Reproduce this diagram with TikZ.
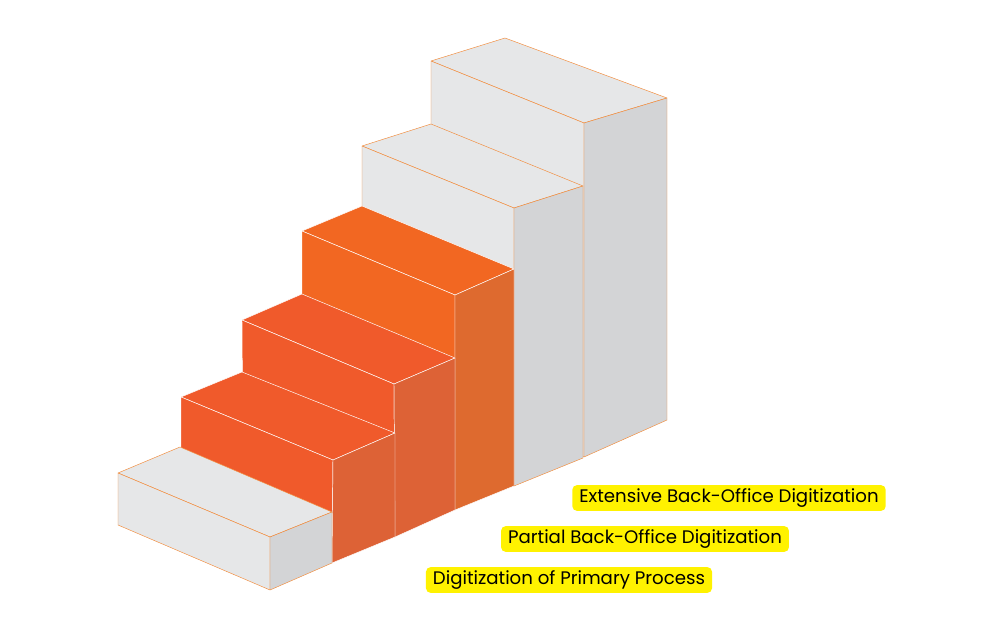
\documentclass[tikz,border=0pt]{standalone}
\usepackage{fontspec}
\setmainfont{Poppins}
\definecolor{greytop}{HTML}{E6E7E8}
\definecolor{greyside}{HTML}{D3D4D6}
\definecolor{orangeA}{HTML}{F05A2B}
\definecolor{orangeB}{HTML}{F26722}
\definecolor{sideA}{HTML}{DD6236}
\definecolor{sideB}{HTML}{DE6A2F}
\definecolor{edgeorange}{HTML}{F28C3C}
\definecolor{labelyellow}{HTML}{FFF200}
% block: #1 top, #2 front, #3 side, #4 edge, then a b c e f g h
\newcommand{\stairblock}[8]{%
\draw [#4, fill=#2] #5 -- #6 -- #8 -- cycle;
}
\begin{document}
\begin{tikzpicture}[x=0.03cm,y=-0.03cm,line join=round]
\tikzstyle{label}=[fill=labelyellow, rounded corners=4pt, inner xsep=6pt, inner ysep=3pt, font=\fontsize{15.5}{18}\selectfont, text=black]
\useasboundingbox (0,0) rectangle (1000,626);
% step 6
\draw [edgeorange, fill=greytop] (431,61) -- (505,38) -- (667,98) -- (584,123) -- cycle;
\draw [edgeorange, fill=greytop] (431,61) -- (584,123) -- (584,457) -- (431,395) -- cycle;
\draw [edgeorange, fill=greyside] (584,123) -- (667,98) -- (667,420) -- (584,457) -- cycle;
% step 5
\draw [edgeorange, fill=greytop] (362,146) -- (431,124) -- (583,186) -- (514,208) -- cycle;
\draw [edgeorange, fill=greytop] (362,146) -- (514,208) -- (514,486) -- (362,422) -- cycle;
\draw [edgeorange, fill=greyside] (514,208) -- (583,186) -- (583,458) -- (514,486) -- cycle;
% step 4
\draw [white, fill=orangeB] (302,231) -- (362,206) -- (514,269) -- (455,295) -- cycle;
\draw [white, fill=orangeB] (302,231) -- (455,295) -- (455,510) -- (302,446) -- cycle;
\draw [white, fill=sideB] (455,295) -- (514,269) -- (514,486) -- (455,510) -- cycle;
% step 3
\draw [white, fill=orangeA] (242,320) -- (302,294) -- (455,358) -- (394,384) -- cycle;
\draw [white, fill=orangeA] (242,320) -- (394,384) -- (395,537) -- (243,473) -- cycle;
\draw [white, fill=sideA] (394,384) -- (455,358) -- (455,510) -- (395,537) -- cycle;
% step 2
\draw [white, fill=orangeA] (181,397) -- (242,372) -- (395,433) -- (333,460) -- cycle;
\draw [white, fill=orangeA] (181,397) -- (333,460) -- (332,563) -- (181,500) -- cycle;
\draw [white, fill=sideA] (333,460) -- (395,433) -- (395,537) -- (332,563) -- cycle;
% step 1
\draw [edgeorange, fill=greytop] (118,473) -- (180,447) -- (332,512) -- (270,537) -- cycle;
\draw [edgeorange, fill=greytop] (118,473) -- (270,537) -- (270,590) -- (118,525) -- cycle;
\draw [edgeorange, fill=greyside] (270,537) -- (332,512) -- (332,563) -- (270,590) -- cycle;
% labels
\node [label] (extensive) at (729,498) {Extensive Back-Office Digitization};
\node [label] (partial) at (645,539) {Partial Back-Office Digitization};
\node [label] (primary) at (569,580) {Digitization of Primary Process};
\end{tikzpicture}
\end{document}
